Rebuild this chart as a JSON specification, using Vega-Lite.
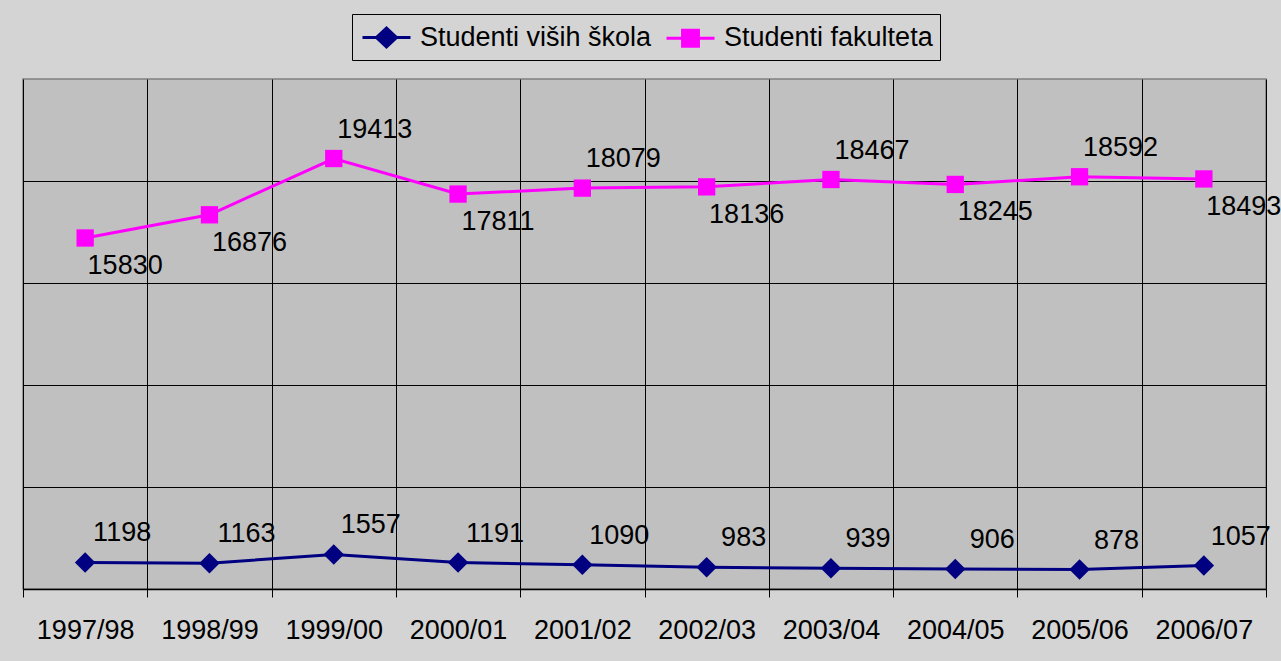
{
  "$schema": "https://vega.github.io/schema/vega-lite/v6.json",
  "width": 1243,
  "height": 510,
  "autosize": {"type": "none"},
  "padding": {"left": 23, "top": 79, "right": 15, "bottom": 72},
  "background": "#D4D4D4",
  "config": {
    "view": {"fill": "#C0C0C0", "stroke": "#808080", "strokeWidth": 1.5},
    "font": "Liberation Sans, Arial, sans-serif"
  },
  "data": {
    "values": [
      {"year": "1997/98", "series": "Studenti viših škola", "value": 1198},
      {"year": "1998/99", "series": "Studenti viših škola", "value": 1163},
      {"year": "1999/00", "series": "Studenti viših škola", "value": 1557},
      {"year": "2000/01", "series": "Studenti viših škola", "value": 1191},
      {"year": "2001/02", "series": "Studenti viših škola", "value": 1090},
      {"year": "2002/03", "series": "Studenti viših škola", "value": 983},
      {"year": "2003/04", "series": "Studenti viših škola", "value": 939},
      {"year": "2004/05", "series": "Studenti viših škola", "value": 906},
      {"year": "2005/06", "series": "Studenti viših škola", "value": 878},
      {"year": "2006/07", "series": "Studenti viših škola", "value": 1057},
      {"year": "1997/98", "series": "Studenti fakulteta", "value": 15830},
      {"year": "1998/99", "series": "Studenti fakulteta", "value": 16876},
      {"year": "1999/00", "series": "Studenti fakulteta", "value": 19413},
      {"year": "2000/01", "series": "Studenti fakulteta", "value": 17811},
      {"year": "2001/02", "series": "Studenti fakulteta", "value": 18079},
      {"year": "2002/03", "series": "Studenti fakulteta", "value": 18136},
      {"year": "2003/04", "series": "Studenti fakulteta", "value": 18467},
      {"year": "2004/05", "series": "Studenti fakulteta", "value": 18245},
      {"year": "2005/06", "series": "Studenti fakulteta", "value": 18592},
      {"year": "2006/07", "series": "Studenti fakulteta", "value": 18493}
    ]
  },
  "encoding": {
    "x": {
      "field": "year", "type": "ordinal", "sort": null,
      "scale": {"type": "band", "paddingInner": 0, "paddingOuter": 0},
      "axis": {
        "title": null, "tickBand": "extent", "grid": true,
        "gridColor": "#000000", "gridOpacity": 1, "gridWidth": 1,
        "domainColor": "#000000", "domainWidth": 1.5, "tickColor": "#000000", "tickSize": 8,
        "labelFontSize": 27, "labelColor": "#000000", "labelPadding": 20, "labelAngle": 0
      }
    },
    "y": {
      "field": "value", "type": "quantitative",
      "scale": {"domain": [0, 23000], "nice": false},
      "axis": {
        "title": null, "labels": false, "ticks": false, "domain": false,
        "values": [4600, 9200, 13800, 18400],
        "gridColor": "#000000", "gridOpacity": 1, "gridWidth": 1
      }
    }
  },
  "layer": [
    {
      "mark": {"type": "line", "strokeWidth": 3},
      "encoding": {
        "color": {
          "field": "series", "type": "nominal",
          "scale": {"domain": ["Studenti viših škola", "Studenti fakulteta"], "range": ["#000080", "#FF00FF"]},
          "legend": {
            "title": null, "orient": "none", "direction": "horizontal", "columns": 2,
            "legendX": 329, "legendY": -65,
            "fillColor": "#D4D4D4", "strokeColor": "#000000", "padding": 7,
            "labelFontSize": 27, "labelColor": "#000000", "labelOffset": 17, "labelLimit": 0,
            "columnPadding": 8, "symbolSize": 900, "symbolOffset": 11, "symbolStrokeWidth": 3,
            "encode": {
              "symbols": {
                "update": {
                  "shape": {"signal": "datum.value === 'Studenti fakulteta' ? 'M-1.6,0H1.6M-0.53,-0.53H0.53V0.53H-0.53Z' : 'M-1.6,0H1.6M0,-0.63L0.67,0L0,0.63L-0.67,0Z'"},
                  "fill": {"signal": "datum.value === 'Studenti fakulteta' ? '#FF00FF' : '#000080'"},
                  "stroke": {"signal": "datum.value === 'Studenti fakulteta' ? '#FF00FF' : '#000080'"},
                  "strokeWidth": {"value": 3},
                  "opacity": {"value": 1},
                  "fillOpacity": {"value": 1}
                }
              }
            }
          }
        }
      }
    },
    {
      "transform": [{"filter": "datum.series === 'Studenti viših škola'"}],
      "mark": {"type": "point", "shape": "diamond", "filled": true, "opacity": 1, "size": 420, "color": "#000080"}
    },
    {
      "transform": [{"filter": "datum.series === 'Studenti fakulteta'"}],
      "mark": {"type": "point", "shape": "square", "filled": true, "opacity": 1, "size": 300, "color": "#FF00FF"}
    },
    {
      "transform": [{"filter": "datum.series === 'Studenti viših škola'"}],
      "mark": {"type": "text", "fontSize": 27, "color": "#000000", "align": "center", "baseline": "middle", "dx": 37, "dy": -29},
      "encoding": {"text": {"field": "value", "type": "quantitative", "format": "d"}}
    },
    {
      "transform": [{"filter": "datum.series === 'Studenti fakulteta' && indexof(['1999/00','2001/02','2003/04','2005/06'], datum.year) >= 0"}],
      "mark": {"type": "text", "fontSize": 27, "color": "#000000", "align": "center", "baseline": "middle", "dx": 41, "dy": -29},
      "encoding": {"text": {"field": "value", "type": "quantitative", "format": "d"}}
    },
    {
      "transform": [{"filter": "datum.series === 'Studenti fakulteta' && indexof(['1999/00','2001/02','2003/04','2005/06'], datum.year) < 0"}],
      "mark": {"type": "text", "fontSize": 27, "color": "#000000", "align": "center", "baseline": "middle", "dx": 40, "dy": 28},
      "encoding": {"text": {"field": "value", "type": "quantitative", "format": "d"}}
    }
  ]
}
